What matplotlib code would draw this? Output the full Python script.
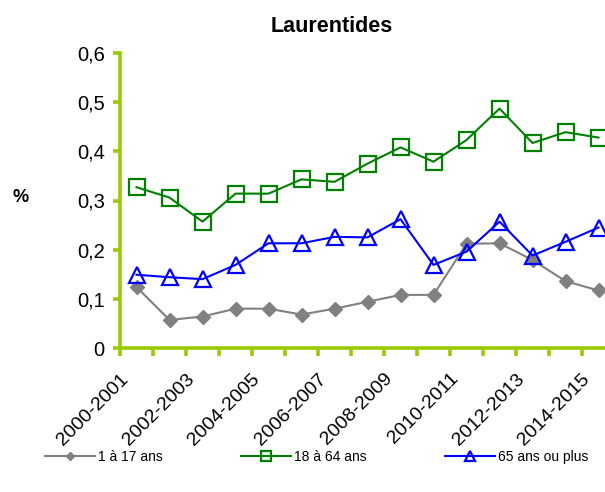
import matplotlib
matplotlib.use("Agg")
import matplotlib.pyplot as plt
import matplotlib.transforms as mtransforms
import numpy as np
from matplotlib.ticker import FixedLocator, FuncFormatter

periods = ["2000-2001", "2001-2002", "2002-2003", "2003-2004", "2004-2005",
           "2005-2006", "2006-2007", "2007-2008", "2008-2009", "2009-2010",
           "2010-2011", "2011-2012", "2012-2013", "2013-2014", "2014-2015"]
age_1_17 = [0.124, 0.057, 0.064, 0.080, 0.080, 0.068, 0.080, 0.094, 0.108, 0.108,
            0.212, 0.213, 0.179, 0.136, 0.117]
age_18_64 = [0.327, 0.306, 0.257, 0.314, 0.314, 0.343, 0.338, 0.375, 0.408, 0.379,
             0.423, 0.487, 0.417, 0.439, 0.428]
age_65p = [0.149, 0.144, 0.140, 0.169, 0.213, 0.213, 0.226, 0.225, 0.262, 0.169,
           0.196, 0.257, 0.188, 0.216, 0.245]
series_names = ["1 à 17 ans", "18 à 64 ans", "65 ans ou plus"]
yticks = [0, 0.1, 0.2, 0.3, 0.4, 0.5, 0.6]

plt.rcParams['font.family'] = ['Liberation Sans', 'DejaVu Sans']

fig = plt.figure(figsize=(6.05, 4.92), dpi=100)
W, H = 605, 492
left, right, top, bottom = 120, 615, 53, 348
ax = fig.add_axes([left / W, 1 - bottom / H, (right - left) / W, (bottom - top) / H])

x = np.arange(len(periods))
l1, = ax.plot(x, age_1_17, color="#808080", lw=1.5, marker="D", ms=7,
              mfc="#808080", mec="#808080", clip_on=False, zorder=3)
l2, = ax.plot(x, age_18_64, color="#008000", lw=1.5, marker="s", ms=11,
              mfc="none", mec="#008000", mew=1.6, clip_on=False, zorder=3)
l3, = ax.plot(x, age_65p, color="#0000FF", lw=1.5, marker="^", ms=12,
              mfc="none", mec="#0000FF", mew=1.6, clip_on=False, zorder=4)

ax.set_xlim(-0.5, len(periods) - 0.5)
ax.set_ylim(0, 0.6)

lime = "#99CC00"
for s in ["top", "right"]:
    ax.spines[s].set_visible(False)
for s in ["left", "bottom"]:
    ax.spines[s].set_color(lime)
    ax.spines[s].set_linewidth(2.6)

ax.set_yticks(yticks)
ax.yaxis.set_major_formatter(FuncFormatter(lambda v, p: ("%.1f" % v).replace(".", ",") if v else "0"))
ax.tick_params(axis="y", colors=lime, width=2.6, length=5, labelsize=14.5, labelcolor="black", pad=6)

ax.xaxis.set_major_locator(FixedLocator(np.arange(-0.5, len(periods), 1)))
ax.xaxis.set_major_formatter(FuncFormatter(lambda v, p: ""))
ax.xaxis.set_minor_locator(FixedLocator(x[::2]))
ax.set_xticklabels([periods[i] for i in x[::2]], minor=True, rotation=45, ha="right",
                   rotation_mode="anchor", fontsize=14)
ax.tick_params(axis="x", which="major", colors=lime, width=2.6, length=6, direction="out")
ax.tick_params(axis="x", which="minor", length=0, pad=16, labelcolor="black")
offset = mtransforms.ScaledTranslation(-17 / 100, 0, fig.dpi_scale_trans)
for lab in ax.get_xticklabels(minor=True):
    lab.set_transform(lab.get_transform() + offset)

fig.text(332 / W, 1 - 27 / H, "Laurentides", ha="center", va="center",
         fontsize=15.5, fontweight="bold")
fig.text(21 / W, 1 - 198 / H, "%", ha="center", va="center", fontsize=13, fontweight="bold")

fig.legend([l1, l2, l3], series_names, loc="center left", bbox_to_anchor=(45 / W, 1 - 457 / H),
           ncol=3, frameon=False, fontsize=10, handlelength=3.6, columnspacing=5.6,
           handletextpad=0.25, markerscale=0.6, borderpad=0, borderaxespad=0)

fig.savefig("out.png", dpi=100)
